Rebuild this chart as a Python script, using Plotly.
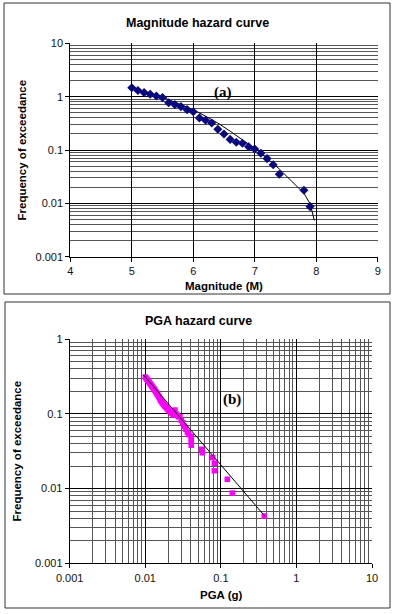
import plotly.graph_objects as go

W, H = 395, 614

# ---- Panel (a): Magnitude hazard curve ----
mag_pts = [5.0, 5.1, 5.2, 5.3, 5.4, 5.5, 5.6, 5.7, 5.8, 5.9, 6.0, 6.1, 6.2, 6.3,
           6.4, 6.5, 6.6, 6.7, 6.8, 6.9, 7.0, 7.1, 7.2, 7.3, 7.4, 7.8, 7.9]
freq_pts = [1.47, 1.30, 1.19, 1.11, 1.03, 0.96, 0.77, 0.71, 0.65, 0.57, 0.52, 0.40,
            0.36, 0.32, 0.245, 0.20, 0.158, 0.14, 0.134, 0.115, 0.104, 0.087, 0.069,
            0.053, 0.035, 0.0176, 0.0087]
mag_curve = [4.95, 5.2, 5.5, 5.8, 6.0, 6.2, 6.4, 6.6, 6.8, 7.0, 7.2, 7.4, 7.6, 7.8,
             7.9, 7.95, 7.97]
freq_curve = [1.52, 1.22, 0.98, 0.72, 0.57, 0.43, 0.32, 0.225, 0.155, 0.107, 0.07,
              0.044, 0.026, 0.0155, 0.0098, 0.0062, 0.0048]
mag_ticks = [4, 5, 6, 7, 8, 9]
freq_ticks_a = [0.001, 0.01, 0.1, 1, 10]
freq_labels_a = ["0.001", "0.01", "0.1", "1", "10"]

# ---- Panel (b): PGA hazard curve ----
pga_pts = [0.0100, 0.0102, 0.0105, 0.0108, 0.0110, 0.0113, 0.0116, 0.0119, 0.0122,
           0.0125, 0.0128, 0.0131, 0.0134, 0.0137, 0.0140, 0.0143, 0.0146, 0.0150,
           0.0153, 0.0157, 0.0160, 0.0164, 0.0168, 0.0172, 0.0176, 0.0180, 0.0185,
           0.0190, 0.0195, 0.0200, 0.0206, 0.0212, 0.0218, 0.0224, 0.0231, 0.0238,
           0.0247, 0.0255, 0.0265, 0.0275, 0.0288, 0.0300, 0.0313, 0.0330, 0.0345,
           0.0360, 0.0375, 0.0406, 0.0406, 0.0406, 0.0406, 0.0557, 0.0568, 0.078,
           0.0819, 0.0819, 0.1216, 0.1416, 0.375]
pga_freq = [0.31, 0.30, 0.29, 0.28, 0.272, 0.262, 0.252, 0.245, 0.236, 0.228, 0.220,
            0.214, 0.206, 0.198, 0.192, 0.184, 0.180, 0.172, 0.165, 0.156, 0.150,
            0.146, 0.140, 0.136, 0.132, 0.128, 0.124, 0.121, 0.117, 0.114, 0.111,
            0.108, 0.105, 0.102, 0.099, 0.096, 0.112, 0.099, 0.095, 0.091, 0.0915,
            0.082, 0.076, 0.068, 0.062, 0.057, 0.053, 0.050, 0.046, 0.042, 0.038,
            0.0335, 0.030, 0.026, 0.0218, 0.0173, 0.0133, 0.0087, 0.0043]
pga_line = [0.0095, 0.38]
pga_line_freq = [0.33, 0.0043]
pga_ticks = [0.001, 0.01, 0.1, 1, 10]
pga_labels = ["0.001", "0.01", "0.1", "1", "10"]
freq_ticks_b = [0.001, 0.01, 0.1, 1]
freq_labels_b = ["0.001", "0.01", "0.1", "1"]

FONT = "Liberation Sans, Arial, sans-serif"


def minor_vals(lo_exp, hi_exp):
    return [m * 10 ** e for e in range(lo_exp, hi_exp) for m in range(2, 10)]


def px_x(p):
    return p / W


def px_y(p):
    return 1 - p / H


fig = go.Figure()

fig.add_trace(go.Scatter(x=mag_curve, y=freq_curve, mode="lines",
                         line=dict(color="black", width=1),
                         xaxis="x", yaxis="y", showlegend=False))
fig.add_trace(go.Scatter(x=mag_pts, y=freq_pts, mode="markers",
                         marker=dict(symbol="diamond", size=7, color="#0a0a80"),
                         xaxis="x", yaxis="y", showlegend=False))

fig.add_trace(go.Scatter(x=pga_pts, y=pga_freq, mode="markers",
                         marker=dict(symbol="square", size=5.5, color="#ff00ff"),
                         xaxis="x2", yaxis="y2", showlegend=False))
fig.add_trace(go.Scatter(x=pga_line, y=pga_line_freq, mode="lines",
                         line=dict(color="black", width=1),
                         xaxis="x2", yaxis="y2", showlegend=False))

tickfont = dict(family=FONT, size=11, color="#111")
MINOR_COLOR = "#555555"

common = dict(ticks="outside", ticklen=4, tickcolor="black",
              showline=True, linecolor="black", linewidth=1,
              showgrid=True, gridcolor="black", gridwidth=1, zeroline=False,
              tickfont=tickfont, automargin=False)

fig.update_layout(
    width=W, height=H,
    margin=dict(l=0, r=0, t=0, b=0),
    paper_bgcolor="white", plot_bgcolor="white",
    xaxis=dict(domain=[px_x(70.3), px_x(377.7)], anchor="y", range=[4, 9],
               tickvals=mag_ticks, **common),
    yaxis=dict(domain=[px_y(256.7), px_y(43.3)], anchor="x", type="log",
               range=[-3, 1], tickvals=freq_ticks_a, ticktext=freq_labels_a,
               minor=dict(tickvals=minor_vals(-3, 1), showgrid=True,
                          gridcolor=MINOR_COLOR, gridwidth=1, ticks=""),
               **common),
    xaxis2=dict(domain=[px_x(69.7), px_x(372)], anchor="y2", type="log",
                range=[-3, 1], tickvals=pga_ticks, ticktext=pga_labels,
                minor=dict(tickvals=minor_vals(-3, 1), showgrid=True,
                           gridcolor=MINOR_COLOR, gridwidth=1, ticks=""),
                **common),
    yaxis2=dict(domain=[px_y(563.3), px_y(339)], anchor="x2", type="log",
                range=[-3, 0], tickvals=freq_ticks_b, ticktext=freq_labels_b,
                minor=dict(tickvals=minor_vals(-3, 0), showgrid=True,
                           gridcolor=MINOR_COLOR, gridwidth=1, ticks=""),
                **common),
)

# panel frames
fig.add_shape(type="rect", xref="paper", yref="paper",
              x0=px_x(4), x1=px_x(390), y0=px_y(294), y1=px_y(3),
              line=dict(color="#333", width=1), layer="below")
fig.add_shape(type="rect", xref="paper", yref="paper",
              x0=px_x(5), x1=px_x(390), y0=px_y(608), y1=px_y(302),
              line=dict(color="#333", width=1), layer="below")

texts = [
    ("Magnitude hazard curve", 197, 22.7, 0, 12.5),
    ("Magnitude (M)", 224, 286, 0, 11.5),
    ("Frequency of exceedance", 21.5, 150, -90, 11.5),
    ("PGA hazard curve", 198, 320.7, 0, 12.5),
    ("PGA (g)", 221, 595, 0, 11.5),
    ("Frequency of exceedance", 16.5, 451, -90, 11.5),
]
for t, x, y, ang, sz in texts:
    fig.add_annotation(text="<b>" + t + "</b>", xref="paper", yref="paper",
                       x=px_x(x), y=px_y(y), showarrow=False, textangle=ang,
                       font=dict(family=FONT, size=sz, color="black"),
                       xanchor="center", yanchor="middle")

fig.add_annotation(text="<b>(a)</b>", x=6.48, y=0.08, xref="x", yref="y",
                   showarrow=False,
                   font=dict(family="Liberation Serif, Times New Roman, serif",
                             size=15, color="black"))
fig.add_annotation(text="<b>(b)</b>", x=-0.857, y=-0.806, xref="x2", yref="y2",
                   showarrow=False,
                   font=dict(family="Liberation Serif, Times New Roman, serif",
                             size=15, color="black"))

fig.write_html(
    "out.html",
    config={"displayModeBar": False},
    post_script="document.body.style.margin='0';document.body.style.overflow='hidden';",
)
